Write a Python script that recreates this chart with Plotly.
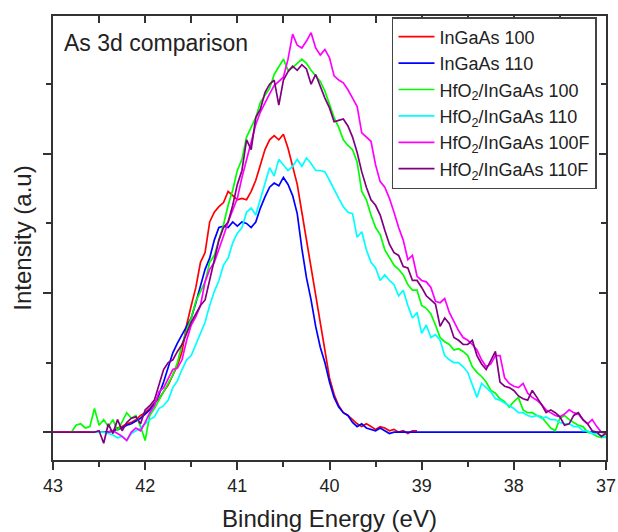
import plotly.graph_objects as go

# Binding-energy grid of the As 3d scans (eV), 0.05 eV steps from 43 down to 37
ENERGY = [round(43.0 - 0.05 * i, 2) for i in range(121)]

# Intensity (a.u.), each list starts at the grid index given in START
START = {
    "InGaAs 100": 0,
    "InGaAs 110": 10,
    "HfO<sub>2</sub>/InGaAs 100": 4,
    "HfO<sub>2</sub>/InGaAs 110": 8,
    "HfO<sub>2</sub>/InGaAs 100F": 12,
    "HfO<sub>2</sub>/InGaAs 110F": 0,
}

ingaas_100 = [
    0.0, 0.0, 0.0, 0.0, 0.0, 0.0, 0.0, 0.0, 0.0, 0.0, 0.0, 0.0, 0.0,
    0.01, 0.03, 0.04, 0.06, 0.07, 0.09, 0.12, 0.14, 0.17, 0.21, 0.24, 0.29,
    0.34, 0.41, 0.48, 0.58, 0.77, 0.91, 1.04, 1.22, 1.29, 1.51, 1.58, 1.62,
    1.65, 1.73, 1.70, 1.67, 1.68, 1.67, 1.73, 1.81, 1.92, 2.03, 2.10, 2.13,
    2.10, 2.14, 2.04, 1.92, 1.78, 1.58, 1.38, 1.18, 0.99, 0.79, 0.58, 0.39,
    0.27, 0.19, 0.14, 0.12, 0.09, 0.06, 0.04, 0.06, 0.04, 0.02, 0.04, 0.03,
    0.01, 0.02, 0.0, 0.01, -0.01, 0.01, 0.01,
]

ingaas_110 = [
    0.0, 0.0, 0.0,
    0.01, 0.02, 0.03, 0.05, 0.06, 0.08, 0.10, 0.13, 0.16, 0.20, 0.27, 0.36,
    0.46, 0.57, 0.64, 0.70, 0.76, 0.82, 0.93, 1.06, 1.17, 1.25, 1.38, 1.47,
    1.48, 1.47, 1.51, 1.48, 1.51, 1.50, 1.47, 1.51, 1.61, 1.69, 1.76, 1.79,
    1.77, 1.83, 1.78, 1.70, 1.57, 1.32, 1.11, 0.95, 0.76, 0.61, 0.50, 0.36,
    0.25, 0.18, 0.14, 0.12, 0.07, 0.04, 0.06, 0.03, 0.02, 0.01, 0.03, 0.01,
    -0.01,
] + [0.0] * 47

hfo2_100 = [
    0.0, 0.05, 0.06, 0.03, 0.04, 0.17, 0.05, 0.09, 0.04, 0.09, 0.01, 0.08,
    0.14, 0.10, 0.12, 0.04, -0.06, 0.12, 0.17, 0.23, 0.29,
    0.34, 0.41, 0.50, 0.63, 0.73, 0.82, 0.94, 1.01, 1.08, 1.22, 1.27, 1.38,
    1.49, 1.63, 1.74, 1.88, 1.96, 2.12, 2.19, 2.26, 2.37, 2.42, 2.47, 2.57,
    2.63, 2.68, 2.60, 2.62, 2.65, 2.68, 2.65, 2.60, 2.56, 2.52, 2.45, 2.35,
    2.26, 2.19, 2.10, 2.06, 2.03, 1.94, 1.73, 1.67, 1.56, 1.47, 1.42, 1.31,
    1.25, 1.20, 1.17, 1.13, 1.06, 1.02, 1.02, 0.91, 0.89, 0.85, 0.77, 0.68,
    0.65, 0.63, 0.59, 0.60, 0.58, 0.55,
    0.47, 0.43, 0.40, 0.36, 0.30, 0.28, 0.24, 0.22, 0.18, 0.22, 0.25, 0.16,
    0.14, 0.14, 0.12, 0.11, 0.07, 0.03, 0.01, 0.10, 0.12, 0.09, 0.07, 0.05,
    0.04, 0.0, -0.01, -0.03, -0.04, -0.03,
]

hfo2_110 = [
    0.0, 0.0,
    0.0, 0.0, -0.01, -0.02, -0.04, -0.03, -0.06, -0.01, 0.01, 0.03, 0.06,
    0.09, 0.11, 0.17, 0.19, 0.23, 0.32, 0.37, 0.45, 0.52, 0.55, 0.63, 0.71,
    0.79, 0.91, 1.01, 1.09, 1.20, 1.25, 1.36, 1.43,
    1.47, 1.58, 1.61, 1.56, 1.67, 1.79, 1.90, 1.84, 1.96, 1.92, 1.88, 1.91,
    1.96, 1.91, 1.97, 1.93, 1.88, 1.88, 1.87, 1.81, 1.74, 1.68, 1.62, 1.58,
    1.57, 1.40, 1.44, 1.31, 1.22, 1.18,
    1.09, 1.13, 1.09, 1.06, 0.98, 1.02, 0.91, 0.82, 0.86, 0.71, 0.77, 0.68,
    0.70, 0.66, 0.55, 0.52, 0.50, 0.50, 0.47, 0.43, 0.34, 0.25, 0.35, 0.32,
    0.29, 0.24, 0.23, 0.21, 0.19, 0.17,
    0.14, 0.14, 0.12, 0.11, 0.12, 0.10, 0.11, 0.09, 0.09, 0.07, 0.06, 0.06,
    0.04, 0.04, 0.01, 0.01, -0.01, -0.01, -0.03, -0.04,
]

hfo2_100f = [
    0.0, 0.01, -0.01, -0.03, -0.06, 0.0, 0.03, 0.01, 0.07, 0.14, 0.19, 0.29,
    0.32, 0.39, 0.45, 0.46, 0.52, 0.66, 0.77, 0.83, 0.91, 1.08, 1.17, 1.22,
    1.31, 1.41, 1.51, 1.60, 1.68, 1.83,
    1.96, 2.09, 2.21, 2.30, 2.37, 2.43, 2.49, 2.52, 2.55, 2.68, 2.86, 2.78,
    2.76, 2.81, 2.87, 2.76, 2.71, 2.75, 2.69, 2.56, 2.53, 2.51, 2.46, 2.40,
    2.34, 2.15, 2.12, 2.09, 1.92, 1.80,
    1.76, 1.68, 1.58, 1.47, 1.38, 1.24, 1.27, 1.12, 1.09, 1.08, 1.04, 0.94,
    0.93, 0.96, 0.86, 0.79, 0.73, 0.68, 0.66, 0.63, 0.59, 0.52, 0.47, 0.49,
    0.55, 0.55, 0.39, 0.35, 0.33, 0.32,
    0.35, 0.28, 0.25, 0.23, 0.20, 0.16, 0.14, 0.12, 0.11, 0.13, 0.16, 0.14,
    0.13, 0.09, 0.06, 0.09, 0.04, 0.0, -0.01,
]

hfo2_110f = [
    0.0, 0.0, 0.0, 0.0, 0.0, 0.0, 0.0, 0.0, 0.0, 0.0,
    0.01, -0.08, 0.06, -0.01, 0.09, 0.01, 0.07, 0.10, 0.11, 0.06, 0.16, 0.19,
    0.23, 0.34, 0.45, 0.50, 0.52, 0.58, 0.63, 0.71, 0.79, 0.85, 0.91, 0.95,
    1.09, 1.22, 1.38, 1.47, 1.51, 1.63,
    1.78, 1.88, 2.10, 2.03, 2.26, 2.32, 2.44, 2.50, 2.53, 2.35, 2.53, 2.59,
    2.63, 2.60, 2.64, 2.61, 2.50, 2.57, 2.48, 2.40, 2.33, 2.23, 2.24, 2.25,
    2.20, 2.12, 2.01, 1.87, 1.76, 1.67,
    1.63, 1.56, 1.45, 1.35, 1.29, 1.27, 1.19, 1.18, 1.09, 1.09, 1.04, 0.98,
    0.95, 0.92, 0.76, 0.82, 0.78, 0.68, 0.66, 0.63, 0.63, 0.66, 0.55, 0.49,
    0.45, 0.52, 0.58, 0.36, 0.33, 0.32,
    0.30, 0.26, 0.24, 0.23, 0.30, 0.25, 0.20, 0.14, 0.16, 0.14, 0.11, 0.05,
    0.06, 0.12, 0.14, 0.09, 0.06, 0.01, 0.0, -0.03, -0.01,
]

SERIES = [
    ("InGaAs 100", ingaas_100, "#ff0000"),
    ("InGaAs 110", ingaas_110, "#0000ff"),
    ("HfO<sub>2</sub>/InGaAs 100", hfo2_100, "#00ff00"),
    ("HfO<sub>2</sub>/InGaAs 110", hfo2_110, "#00ffff"),
    ("HfO<sub>2</sub>/InGaAs 100F", hfo2_100f, "#ff00ff"),
    ("HfO<sub>2</sub>/InGaAs 110F", hfo2_110f, "#800080"),
]

X_RANGE = [43, 37]
Y_RANGE = [-0.2, 2.99]
FONT = "Liberation Sans, Arial, sans-serif"
AXIS_COLOR = "#333333"

fig = go.Figure()
for name, values, color in SERIES:
    s = START[name]
    fig.add_trace(go.Scatter(
        x=ENERGY[s:s + len(values)], y=values, mode="lines", name=name,
        line=dict(color=color, width=1.7),
    ))

# bare frame axes on top and right carrying inward ticks
fig.add_trace(go.Scatter(x=[], y=[], xaxis="x2", yaxis="y2",
                         showlegend=False, hoverinfo="skip"))

common = dict(showgrid=False, zeroline=False, showline=True, automargin=False,
              linecolor=AXIS_COLOR, linewidth=2, tickcolor=AXIS_COLOR,
              tickwidth=1.5)
minor_out = dict(ticks="outside", ticklen=5, dtick=0.5, tickcolor=AXIS_COLOR, tickwidth=1.5)

fig.update_layout(
    width=618, height=532,
    margin=dict(l=53, r=12, t=16, b=72),
    paper_bgcolor="white", plot_bgcolor="white",
    font=dict(family=FONT, color="#222222"),
    xaxis=dict(
        range=X_RANGE, ticks="outside", ticklen=8, dtick=1, tick0=37,
        tickfont=dict(size=18), minor=minor_out,
        title=dict(text="Binding Energy (eV)", font=dict(size=24), standoff=18),
        **common,
    ),
    yaxis=dict(
        range=Y_RANGE, ticks="outside", ticklen=8, dtick=1, tick0=0,
        showticklabels=False, minor=minor_out,
        title=dict(text="Intensity (a.u)", font=dict(size=24), standoff=5),
        **common,
    ),
    xaxis2=dict(
        range=X_RANGE, overlaying="x", side="top", anchor="y2",
        ticks="inside", ticklen=7, dtick=1, tick0=37, showticklabels=False,
        minor=dict(ticks="inside", ticklen=7, dtick=0.5, tickcolor=AXIS_COLOR, tickwidth=1.5),
        **common,
    ),
    yaxis2=dict(
        range=Y_RANGE, overlaying="y", side="right", anchor="x2",
        ticks="inside", ticklen=7, dtick=1, tick0=0, showticklabels=False,
        minor=dict(ticks="inside", ticklen=5, dtick=0.5, tickcolor=AXIS_COLOR, tickwidth=1.5),
        **common,
    ),
    legend=dict(
        x=0.613, y=0.9977, xanchor="left", yanchor="top",
        bgcolor="white", bordercolor="#444444", borderwidth=1.5,
        font=dict(size=18, color="#222222"), tracegroupgap=0, itemwidth=36,
    ),
    annotations=[dict(
        text="As 3d comparison", xref="paper", yref="paper",
        x=0.016, y=0.94, xanchor="left", yanchor="middle",
        showarrow=False, font=dict(size=23, color="#222222"),
    )],
)

fig.write_html("out.html")
